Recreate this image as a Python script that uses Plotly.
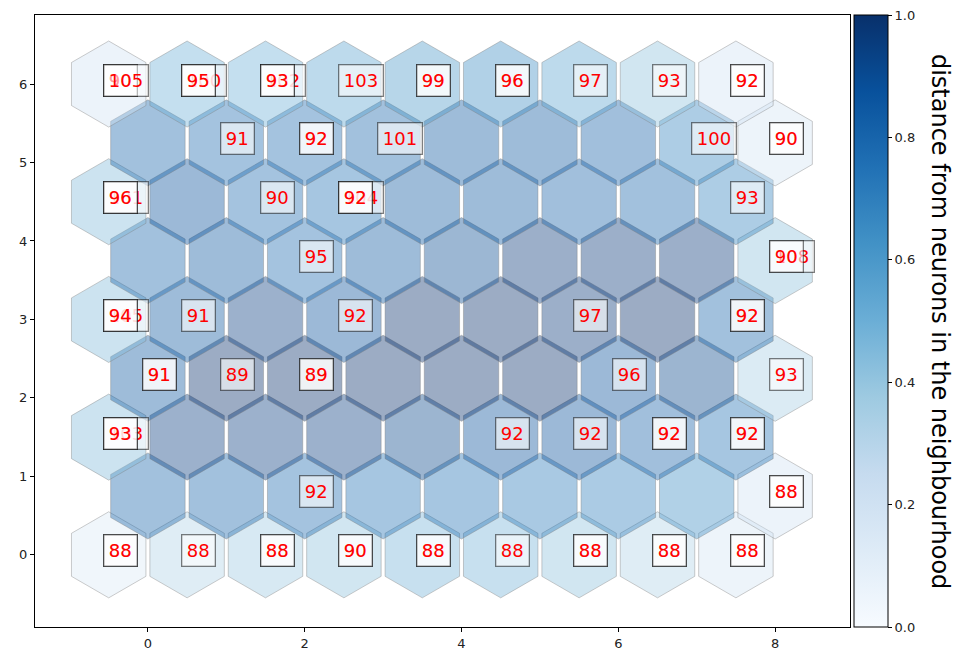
import numpy as np
import plotly.graph_objects as go

# ---------------- data ----------------
# U-matrix values (rows j=0 bottom .. 8 top, columns i=0..8)
umatrix = [
    [0.15, 0.32, 0.38, 0.42, 0.48, 0.48, 0.42, 0.32, 0.18],
    [0.80, 0.80, 0.78, 0.75, 0.75, 0.72, 0.70, 0.65, 0.20],
    [0.45, 0.95, 0.95, 0.95, 0.92, 0.88, 0.88, 0.82, 0.75],
    [0.85, 1.00, 1.00, 1.00, 1.00, 1.00, 0.88, 0.92, 0.35],
    [0.45, 0.85, 0.95, 0.88, 1.00, 1.00, 0.97, 1.00, 0.80],
    [0.80, 0.85, 0.78, 0.85, 0.90, 0.97, 0.97, 0.97, 0.42],
    [0.45, 0.88, 0.78, 0.75, 0.85, 0.85, 0.82, 0.80, 0.68],
    [0.80, 0.78, 0.78, 0.80, 0.85, 0.85, 0.82, 0.68, 0.18],
    [0.20, 0.50, 0.50, 0.55, 0.60, 0.65, 0.55, 0.42, 0.20],
]

# labels of the winning neurons (column index, row index, text), in drawing order
label_col = [0, 0, 0, 1, 1, 1, 2, 2, 2, 3, 4, 4, 5, 5, 6, 7, 8, 8,
             1, 2, 2, 3, 7, 8, 8,
             0, 0, 0, 2, 3, 3, 3, 8,
             2, 8, 8,
             0, 0, 0, 1, 3, 6, 8, 8,
             0, 0, 1, 2, 2, 6, 8,
             0, 0, 0, 5, 6, 7, 7, 8, 8,
             2, 8, 8,
             0, 0, 1, 2, 2, 3, 3, 4, 4, 5, 6, 6, 7, 7, 8, 8]
label_row = [8] * 18 + [7] * 7 + [6] * 8 + [5] * 3 + [4] * 8 + [3] * 7 + [2] * 9 + [1] * 3 + [0] * 16
label_text = ["90", "90", "105", "100", "95", "95", "102", "93", "93", "103", "99", "99",
              "96", "96", "97", "93", "92", "92",
              "91", "92", "92", "101", "100", "90", "90",
              "101", "96", "96", "90", "104", "92", "92", "93",
              "95", "108", "90",
              "105", "94", "94", "91", "92", "97", "92", "92",
              "91", "91", "89", "89", "89", "96", "93",
              "103", "93", "93", "92", "92", "92", "92", "92", "92",
              "92", "88", "88",
              "88", "88", "88", "88", "88", "90", "90", "88", "88", "88",
              "88", "88", "88", "88", "88", "88"]

x_ticks = [0, 2, 4, 6, 8]
y_ticks = [0, 1, 2, 3, 4, 5, 6]
colorbar_ticks = [0.0, 0.2, 0.4, 0.6, 0.8, 1.0]
colorbar_title = "distance from neurons in the neighbourhood"

# ---------------- helpers ----------------
blues_hex = ["#f7fbff", "#deebf7", "#c6dbef", "#9ecae1", "#6baed6",
             "#4292c6", "#2171b5", "#08519c", "#08306b"]
blues_rgb = [tuple(int(h[k:k + 2], 16) for k in (1, 3, 5)) for h in blues_hex]
blues_scale = [[k / 8, h] for k, h in enumerate(blues_hex)]


def blues(v, alpha):
    v = min(max(v, 0.0), 1.0) * 8
    k = min(int(v), 7)
    f = v - k
    c = [blues_rgb[k][m] * (1 - f) + blues_rgb[k + 1][m] * f for m in range(3)]
    return "rgba(%d,%d,%d,%.2f)" % (round(c[0]), round(c[1]), round(c[2]), alpha)


def hex_center(i, j):
    return i - 0.5 * (j % 2 == 0), j * 0.75


radius = 0.95 / np.sqrt(3)
angles = np.radians(np.arange(90, 451, 60))

fig = go.Figure()
n = len(umatrix)
for j in range(n):
    for i in range(len(umatrix[j])):
        cx, cy = hex_center(i, j)
        fig.add_trace(go.Scatter(
            x=cx + radius * np.cos(angles), y=cy + radius * np.sin(angles),
            mode="lines", fill="toself",
            fillcolor=blues(umatrix[j][i], 0.4),
            line=dict(color="rgba(128,128,128,0.4)", width=1),
            hoverinfo="skip", showlegend=False))

# invisible markers at hex centres carry the colour bar
cxs, cys, vals = [], [], []
for j in range(n):
    for i in range(len(umatrix[j])):
        cx, cy = hex_center(i, j)
        cxs.append(cx); cys.append(cy); vals.append(umatrix[j][i])
fig.add_trace(go.Scatter(
    x=cxs, y=cys, mode="markers", hoverinfo="skip", showlegend=False,
    marker=dict(size=1, opacity=0, color=vals, cmin=0, cmax=1,
                colorscale=blues_scale, showscale=True,
                colorbar=dict(x=1.005, xanchor="left", xpad=0, ypad=0,
                              y=0.5, yanchor="middle", len=1, lenmode="fraction",
                              thickness=34, outlinewidth=1, outlinecolor="black",
                              ticks="outside", ticklen=4, tickcolor="black",
                              tickvals=colorbar_ticks, tickformat=".1f",
                              tickfont=dict(family="DejaVu Sans", size=13, color="#222")))))

annotations = []
for c, r, t in zip(label_col, label_row, label_text):
    cx, cy = hex_center(c, r)
    annotations.append(dict(
        x=cx, y=cy, xref="x", yref="y", text=t, showarrow=False,
        xanchor="left", yanchor="middle", xshift=-6, yshift=4,
        font=dict(family="DejaVu Sans", size=18, color="red"),
        bgcolor="rgba(255,255,255,0.6)", bordercolor="rgba(0,0,0,0.5)",
        borderwidth=1.3, borderpad=4.5))

annotations.append(dict(
    x=1.1105, y=0.5, xref="paper", yref="paper", text=colorbar_title,
    showarrow=False, textangle=90, xanchor="center", yanchor="middle",
    font=dict(family="DejaVu Sans", size=24, color="black")))

axis_common = dict(showline=True, mirror=True, linecolor="black", linewidth=1,
                   ticks="outside", ticklen=4, tickcolor="black", showgrid=False,
                   zeroline=False, tickfont=dict(family="DejaVu Sans", size=13, color="#222"))

fig.update_layout(
    width=959, height=652,
    margin=dict(l=35, r=109, t=15, b=25, autoexpand=False),
    paper_bgcolor="white", plot_bgcolor="white",
    xaxis=dict(range=[-1.44, 8.955], tickvals=x_ticks, **axis_common),
    yaxis=dict(range=[-0.92, 6.88], tickvals=y_ticks, **axis_common),
    annotations=annotations,
    showlegend=False,
)

fig.write_html("out.html", config={"displayModeBar": False},
               post_script="document.body.style.margin='0';document.body.style.overflow='hidden';")
